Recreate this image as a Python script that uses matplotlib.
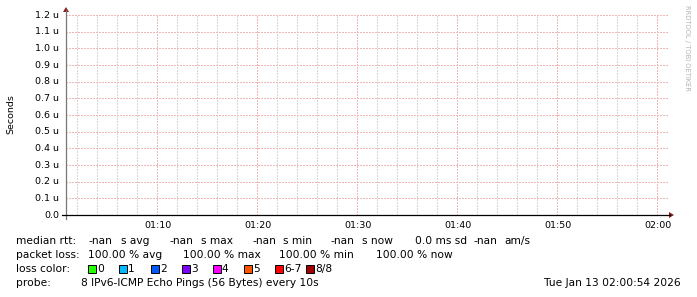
import matplotlib
matplotlib.use("Agg")
import matplotlib.pyplot as plt
from matplotlib.patches import Polygon, Rectangle

# ---- data ----
x_tick_labels = ["01:10", "01:20", "01:30", "01:40", "01:50", "02:00"]
x_tick_seconds = [546, 1146, 1746, 2346, 2946, 3546]   # seconds after 01:00:54
x_minor_seconds = [66 + 120 * i for i in range(30)]
y_tick_values = [0.0, 0.1e-6, 0.2e-6, 0.3e-6, 0.4e-6, 0.5e-6, 0.6e-6,
                 0.7e-6, 0.8e-6, 0.9e-6, 1.0e-6, 1.1e-6, 1.2e-6]
y_tick_labels = ["0.0", "0.1 u", "0.2 u", "0.3 u", "0.4 u", "0.5 u", "0.6 u",
                 "0.7 u", "0.8 u", "0.9 u", "1.0 u", "1.1 u", "1.2 u"]
loss_labels = ["0", "1", "2", "3", "4", "5", "6-7", "8/8"]
loss_colors = ["#26ff00", "#00b8ff", "#0059ff", "#7e00ff", "#ff00ff",
               "#ff5500", "#ff0000", "#a10000"]
median_rtt = [("-nan", "s avg"), ("-nan", "s max"), ("-nan", "s min"), ("-nan", "s now")]
packet_loss = ["100.00 % avg", "100.00 % max", "100.00 % min", "100.00 % now"]

W, H = 697, 297
fig = plt.figure(figsize=(W / 100, H / 100), dpi=100)
fig.patch.set_facecolor("white")


def P(x, y):
    return (x / W, 1 - y / H)


L, R, T, B = 66, 666, 15, 215
ax = fig.add_axes([L / W, 1 - B / H, (R - L) / W, (B - T) / H])
ax.set_xlim(0, 3600)
ax.set_ylim(0, 1.2e-6)
for s in ax.spines.values():
    s.set_visible(False)
ax.set_xticks([])
ax.set_yticks([])
ax.patch.set_alpha(0)

dot = (0, (1.4, 1.4))
lw = 0.72
# minor vertical grid
for xs in x_minor_seconds:
    ax.axvline(xs, color="#d6d6d6", lw=lw, linestyle=dot, zorder=1, antialiased=False)
# major vertical grid
for xs in x_tick_seconds:
    ax.axvline(xs, color="#efb8b8", lw=lw, linestyle=dot, zorder=2, antialiased=False)
# horizontal grid
for yv in y_tick_values[1:]:
    ax.plot([0, 3618], [yv, yv], color="#efb8b8", lw=lw, linestyle=dot,
            zorder=2, clip_on=False, antialiased=False)

# axis lines
fig.add_artist(plt.Line2D([P(66, 0)[0], P(66, 0)[0]], [P(0, 10)[1], P(0, 219)[1]],
                          color="#777777", lw=0.9))
fig.add_artist(plt.Line2D([P(62, 0)[0], P(670, 0)[0]], [P(0, 215)[1], P(0, 215)[1]],
                          color="#000000", lw=0.9))
arrow_c = "#8b1a1a"
fig.add_artist(Polygon([P(63, 12), P(69, 12), P(66, 7)], closed=True,
                       transform=fig.transFigure, color=arrow_c, lw=0))
fig.add_artist(Polygon([P(669, 212), P(669, 218), P(674, 215)], closed=True,
                       transform=fig.transFigure, color=arrow_c, lw=0))

tick_fs = 6.8
for yv, lab in zip(y_tick_values, y_tick_labels):
    ypx = B - (yv / 1.2e-6) * (B - T)
    fig.text(*P(59, ypx), lab, ha="right", va="center", fontsize=tick_fs, color="#000000")
for xs, lab in zip(x_tick_seconds, x_tick_labels):
    xpx = L + xs / 3600 * (R - L)
    fig.text(*P(xpx + 1, 225), lab, ha="center", va="center", fontsize=tick_fs, color="#000000")

fig.text(*P(11, 114), "Seconds", rotation=90, ha="center", va="center", fontsize=6.8)
fig.text(*P(687, 5), "RRDTOOL / TOBI OETIKER", rotation=270, ha="center", va="top",
         fontsize=4.9, color="#b4b4b4")

fs = 7.7
# row 1
y1 = 241
fig.text(*P(16, y1), "median rtt:", ha="left", va="center", fontsize=fs)
for (v, u), xv, xu in zip(median_rtt, [88, 169, 252, 330], [121, 201, 283, 362]):
    fig.text(*P(xv, y1), v, ha="left", va="center", fontsize=fs)
    fig.text(*P(xu, y1), u, ha="left", va="center", fontsize=fs)
fig.text(*P(415, y1), "0.0 ms sd", ha="left", va="center", fontsize=fs)
fig.text(*P(473, y1), "-nan", ha="left", va="center", fontsize=fs)
fig.text(*P(504, y1), "am/s", ha="left", va="center", fontsize=fs)
# row 2
y2 = 255
fig.text(*P(16, y2), "packet loss:", ha="left", va="center", fontsize=fs)
for t, xv in zip(packet_loss, [88, 183, 279, 376]):
    fig.text(*P(xv, y2), t, ha="left", va="center", fontsize=fs)
# row 3
y3 = 269
fig.text(*P(16, y3), "loss color:", ha="left", va="center", fontsize=fs)
for lab, col, xb in zip(loss_labels, loss_colors, [88, 119, 151, 182, 213, 244, 275, 306]):
    fig.add_artist(Rectangle(P(xb, y3 + 4), 8 / W, 8 / H, transform=fig.transFigure,
                             facecolor=col, edgecolor="black", lw=0.7))
    fig.text(*P(xb + 9, y3), lab, ha="left", va="center", fontsize=fs)
# row 4
y4 = 283
fig.text(*P(16, y4), "probe:", ha="left", va="center", fontsize=fs)
fig.text(*P(81, y4), "8 IPv6-ICMP Echo Pings (56 Bytes) every 10s", ha="left", va="center", fontsize=fs)
fig.text(*P(681, y4), "Tue Jan 13 02:00:54 2026", ha="right", va="center", fontsize=fs)

fig.savefig("out.png", dpi=100, facecolor="white")
